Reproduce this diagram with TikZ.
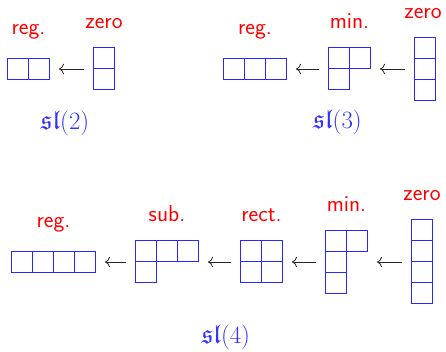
\documentclass[tikz,border=0pt]{standalone}
\usepackage{amsfonts}
\usetikzlibrary{arrows.meta}
\definecolor{yblue}{RGB}{40,40,255}
\definecolor{sblue}{RGB}{50,50,255}
\newcommand\ycsz{21}
\newcommand\ycells[2]{\begin{scope}[shift={(#1.north west)}]\foreach \i/\j in {#2}{\draw[cell] (\i*\ycsz,-\j*\ycsz) rectangle ++(\ycsz,-\ycsz);}\end{scope}}
\begin{document}
\begin{tikzpicture}[x=1pt,y=1pt,
  cell/.style={draw=yblue,line width=1pt},
  diag/.style={draw=none,inner sep=0pt,outer sep=0pt},
  size/.style n args={2}{minimum width=#1*21pt,minimum height=#2*21pt},
  lab/.style={text=red,font=\fontsize{23}{26}\selectfont\sffamily,inner sep=0pt,anchor=south},
  alg/.style={text=sblue,font=\fontsize{27}{30}\selectfont,inner sep=0pt,anchor=base},
  arr/.style={-{To[scale=1.5]},line width=0.8pt,black!85,shorten <=9.5pt,shorten >=9.5pt}]
\useasboundingbox (0,0) rectangle (446,351);
% sl(2)
\node[diag,size={2}{1}] (r2) at (28.5,282) {};
\node[diag,size={1}{2}] (z2) at (104,282.5) {};
\ycells{r2}{0/0,1/0}
\ycells{z2}{0/0,0/1}
\node[lab] (lr2) at ([yshift=19pt]r2.north) {reg.};
\node[lab] (lz2) at ([yshift=19pt]z2.north) {zero};
\draw[arr] (z2.west |- r2) -- (r2.east);
\node[alg] (a2) at (65,222) {$\mathfrak{sl}(2)$};
% sl(3)
\node[diag,size={3}{1}] (r3) at (255,282) {};
\node[diag,size={2}{2}] (m3) at (349.5,282.5) {};
\node[diag,size={1}{3}] (z3) at (425,282) {};
\ycells{r3}{0/0,1/0,2/0}
\ycells{m3}{0/0,1/0,0/1}
\ycells{z3}{0/0,0/1,0/2}
\node[lab] (lr3) at ([yshift=19pt]r3.north) {reg.};
\node[lab] (lm3) at ([yshift=19pt]m3.north) {min.};
\node[lab] (lz3) at ([xshift=-2pt,yshift=19pt]z3.north) {zero};
\draw[arr] (m3.west |- r3) -- (r3.east);
\draw[arr] (z3.west) -- (m3.east |- z3);
\node[alg] (a3) at (337.5,222.5) {$\mathfrak{sl}(3)$};
% sl(4)
\node[diag,size={4}{1}] (r4) at (53.5,89) {};
\node[diag,size={3}{2}] (s4) at (167,89.5) {};
\node[diag,size={2}{2}] (c4) at (261.5,89.5) {};
\node[diag,size={2}{3}] (m4) at (346.5,89) {};
\node[diag,size={1}{4}] (z4) at (422,89.5) {};
\ycells{r4}{0/0,1/0,2/0,3/0}
\ycells{s4}{0/0,1/0,2/0,0/1}
\ycells{c4}{0/0,1/0,0/1,1/1}
\ycells{m4}{0/0,1/0,0/1,0/2}
\ycells{z4}{0/0,0/1,0/2,0/3}
\node[lab] (lr4) at ([yshift=19pt]r4.north) {reg.};
\node[lab] (ls4) at ([yshift=19pt]s4.north) {sub.};
\node[lab] (lc4) at ([yshift=19pt]c4.north) {rect.};
\node[lab] (lm4) at ([yshift=19pt]m4.north) {min.};
\node[lab] (lz4) at ([yshift=19pt]z4.north) {zero};
\draw[arr] (s4.west |- r4) -- (r4.east);
\draw[arr] (c4.west |- r4) -- (s4.east |- r4);
\draw[arr] (m4.west) -- (c4.east |- m4);
\draw[arr] (z4.west |- m4) -- (m4.east);
\node[alg] (a4) at (225.8,7.7) {$\mathfrak{sl}(4)$};
\end{tikzpicture}
\end{document}
